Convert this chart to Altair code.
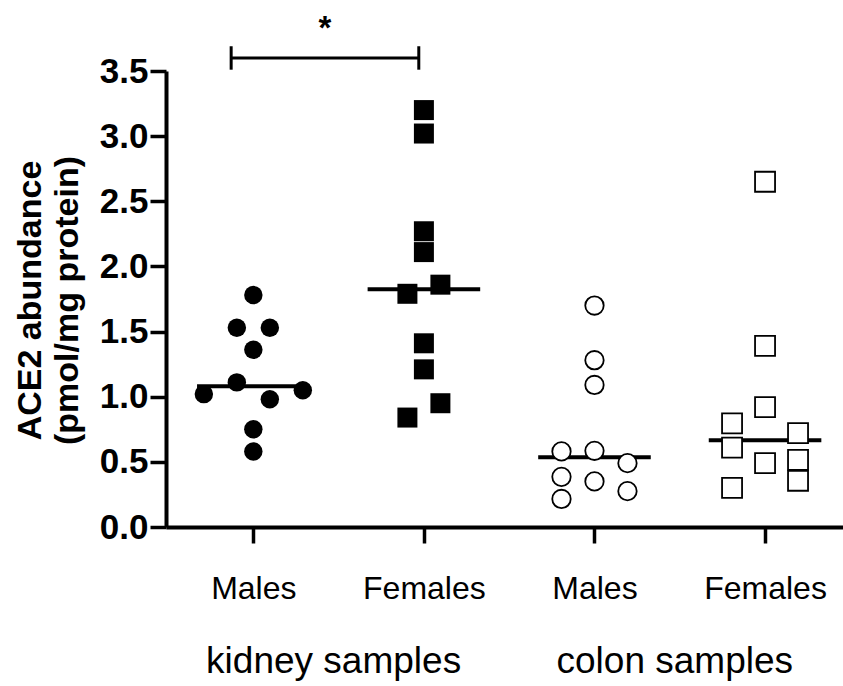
import altair as alt
import pandas as pd

# ---- data ----
groups = ["kidney Males", "kidney Females", "colon Males", "colon Females"]
group_pos = [1, 2, 3, 4]
tissues = ["kidney", "kidney", "colon", "colon"]
sexes = ["Males", "Females", "Males", "Females"]

kidney_males = [1.78, 1.53, 1.53, 1.36, 1.11, 1.02, 0.98, 1.05, 0.75, 0.58]
kidney_males_slot = [0, -1, 1, 0, -1, -3, 1, 3, 0, 0]
kidney_females = [3.20, 3.02, 2.27, 2.11, 1.79, 1.86, 1.41, 1.21, 0.95, 0.84]
kidney_females_slot = [0, 0, 0, 0, -1, 1, 0, 0, 1, -1]
colon_males = [1.70, 1.28, 1.09, 0.58, 0.585, 0.49, 0.385, 0.35, 0.275, 0.215]
colon_males_slot = [0, 0, 0, -2, 0, 2, -2, 0, 2, -2]
colon_females = [2.65, 1.39, 0.92, 0.795, 0.61, 0.72, 0.49, 0.515, 0.355, 0.30]
colon_females_slot = [0, 0, 0, -2, -2, 2, 0, 2, 2, -2]

y_ticks = [0.0, 0.5, 1.0, 1.5, 2.0, 2.5, 3.0, 3.5]
x_labels = ["Males", "Females", "Males", "Females"]
group_titles = ["kidney samples", "colon samples"]
group_title_pos = [1.5, 3.5]

bracket_from, bracket_to, bracket_y = 0.87, 1.97, 3.60
bracket_cap_lo, bracket_cap_hi = 3.51, 3.69
star_x, star_y = 1.42, 3.745

vals = [kidney_males, kidney_females, colon_males, colon_females]
slots = [kidney_males_slot, kidney_females_slot, colon_males_slot, colon_females_slot]

rows = []
for g, p, t, s, vv, ss in zip(groups, group_pos, tissues, sexes, vals, slots):
    for v, sl in zip(vv, ss):
        rows.append({"group": g, "pos": p, "tissue": t, "sex": s, "value": v, "slot": sl})
df = pd.DataFrame(rows)

FONT = "Liberation Sans"
W, H = 677, 456
XDOM = [0.488, 4.457]

xscale = alt.Scale(domain=XDOM, nice=False, zero=False)
yscale = alt.Scale(domain=[0, 3.5], nice=False, zero=True)

label_expr = "datum.value == 1 ? 'Males' : datum.value == 2 ? 'Females' : datum.value == 3 ? 'Males' : 'Females'"

x_axis = alt.Axis(values=group_pos, labelExpr=label_expr, title=None, grid=False,
                  tickSize=16, tickWidth=3.5, tickColor="black", domainColor="black",
                  domainWidth=4, labelFontSize=32, labelFont=FONT, labelColor="black",
                  labelPadding=30, labelFlush=False)
y_axis = alt.Axis(values=y_ticks, format=".1f", grid=False, tickSize=16, tickWidth=3.5,
                  tickColor="black", domainColor="black", domainWidth=4,
                  labelFontSize=35, labelFont=FONT, labelFontWeight="bold", labelColor="black",
                  labelPadding=2,
                  title=["ACE2 abundance", "(pmol/mg protein)"], titleFont=FONT,
                  titleFontSize=34, titleFontWeight="bold", titleColor="black",
                  titleAngle=-90, titleX=-136, titleY=H / 2 + 1, titleAlign="center",
                  titleBaseline="middle", titleLineHeight=37)

base = alt.Chart(df).transform_calculate(xj="datum.pos + datum.slot * 0.0967")

kidney_pts = base.transform_filter(alt.datum.tissue == "kidney").mark_point(
    filled=True, color="black", opacity=1
).encode(
    x=alt.X("xj:Q", scale=xscale, axis=x_axis),
    y=alt.Y("value:Q", scale=yscale, axis=y_axis),
    shape=alt.Shape("sex:N", scale=alt.Scale(domain=["Males", "Females"], range=["circle", "square"]), legend=None),
    size=alt.Size("sex:N", scale=alt.Scale(domain=["Males", "Females"], range=[340, 400]), legend=None),
)

colon_pts = base.transform_filter(alt.datum.tissue == "colon").mark_point(
    filled=False, fill="white", fillOpacity=1, stroke="black", strokeWidth=1.8, opacity=1
).encode(
    x=alt.X("xj:Q", scale=xscale),
    y=alt.Y("value:Q", scale=yscale),
    shape=alt.Shape("sex:N", scale=alt.Scale(domain=["Males", "Females"], range=["circle", "square"]), legend=None),
    size=alt.Size("sex:N", scale=alt.Scale(domain=["Males", "Females"], range=[270, 340]), legend=None),
)

medians = alt.Chart(df).transform_aggregate(
    med="median(value)", groupby=["group", "pos"]
).transform_calculate(
    xl="datum.pos - 0.33", xr="datum.pos + 0.33"
).mark_rule(color="black", strokeWidth=4).encode(
    x=alt.X("xl:Q", scale=xscale),
    x2="xr:Q",
    y=alt.Y("med:Q", scale=yscale),
)

gt_df = pd.DataFrame({"label": group_titles, "pos": group_title_pos})
group_text = alt.Chart(gt_df).mark_text(
    font=FONT, fontSize=37, color="black", baseline="alphabetic", align="center", dx=-5
).encode(
    x=alt.X("pos:Q", scale=xscale),
    y=alt.value(H + 146),
    text="label:N",
)

br_df = pd.DataFrame({"x1": [bracket_from], "x2": [bracket_to], "y": [bracket_y]})
bracket_h = alt.Chart(br_df).mark_rule(color="black", strokeWidth=3).encode(
    x=alt.X("x1:Q", scale=xscale), x2="x2:Q", y=alt.Y("y:Q", scale=yscale)
)
cap_df = pd.DataFrame({"x": [bracket_from, bracket_to], "y1": [bracket_cap_lo] * 2, "y2": [bracket_cap_hi] * 2})
bracket_caps = alt.Chart(cap_df).mark_rule(color="black", strokeWidth=3).encode(
    x=alt.X("x:Q", scale=xscale), y=alt.Y("y1:Q", scale=yscale), y2="y2:Q"
)
star_df = pd.DataFrame({"x": [star_x], "y": [star_y], "t": ["*"]})
star = alt.Chart(star_df).mark_text(font=FONT, fontSize=33, fontWeight="bold", color="black",
                                    baseline="alphabetic", align="center").encode(
    x=alt.X("x:Q", scale=xscale), y=alt.Y("y:Q", scale=yscale), text="t:N"
)

chart = alt.layer(
    medians, kidney_pts, colon_pts, group_text, bracket_h, bracket_caps, star
).properties(
    width=W, height=H,
    autosize=alt.AutoSizeParams(type="none"),
    padding={"left": 166, "top": 71, "right": 0, "bottom": 159},
    background="white",
).configure_view(stroke=None)

chart.save("out.html", embed_options={"renderer": "svg", "actions": False})
